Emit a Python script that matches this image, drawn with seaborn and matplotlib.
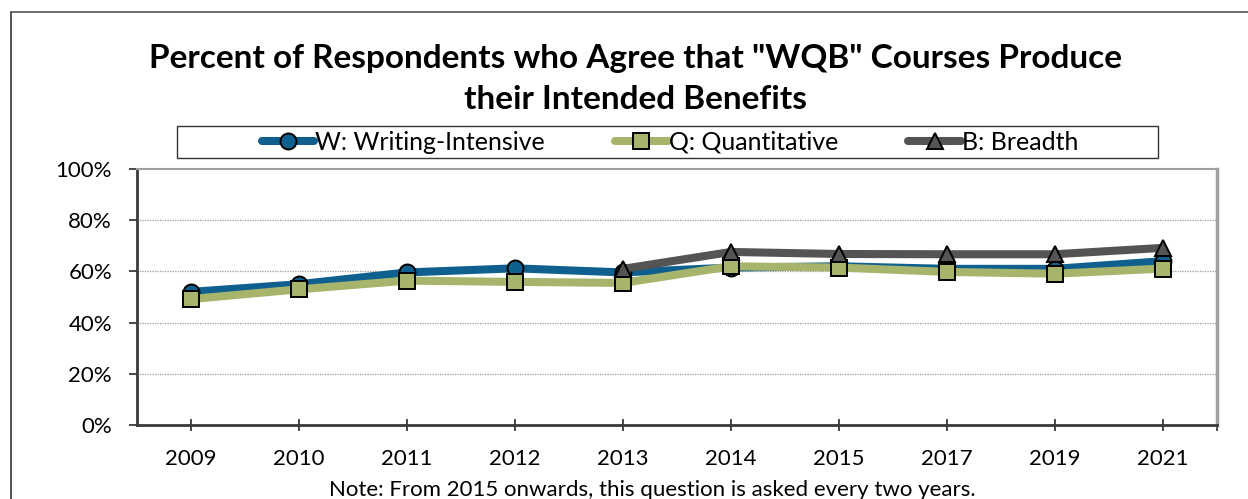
import matplotlib
matplotlib.use("Agg")
import matplotlib.pyplot as plt
import seaborn as sns
import pandas as pd
import numpy as np
from matplotlib.lines import Line2D
from matplotlib.patches import Rectangle
from matplotlib.ticker import PercentFormatter, FixedLocator

years = ["2009", "2010", "2011", "2012", "2013", "2014", "2015", "2017", "2019", "2021"]
writing = [52, 55, 59.6, 61.2, 59.6, 61.5, 62, 61, 61, 64]
quantitative = [49.2, 53, 56.4, 55.9, 55.5, 62, 61.5, 59.8, 59.1, 61.1]
breadth = [None, None, None, None, 61, 67.6, 66.8, 66.7, 66.7, 69.2]

series_names = ["W: Writing-Intensive", "Q: Quantitative", "B: Breadth"]
series_values = [writing, quantitative, breadth]
colors = ["#10608F", "#A6B56B", "#545454"]
markers = ["o", "s", "^"]
msizes = [11.5, 11.5, 11]

title = 'Percent of Respondents who Agree that "WQB" Courses Produce\ntheir Intended Benefits'
note = "Note: From 2015 onwards, this question is asked every two years."

sns.set_theme(style="white")
plt.rcParams["font.family"] = ["Lato", "DejaVu Sans"]
plt.rcParams["text.color"] = "black"

fig = plt.figure(figsize=(12.48, 4.99), dpi=100)
ax = fig.add_axes([137/1248, 1-425/499, (1217-137)/1248, (425-169)/499])

for name, vals, c, m, ms in zip(series_names, series_values, colors, markers, msizes):
    df = pd.DataFrame({"year": years, "value": vals}).dropna()
    sns.lineplot(data=df, x="year", y="value", ax=ax, color=c, linewidth=5.8,
                 marker=m, markersize=ms, markeredgecolor="black",
                 markeredgewidth=1.4, markerfacecolor=c, label=name,
                 legend=False, sort=False)

ax.set_xlim(-0.5, len(years) - 0.5)
ax.set_ylim(0, 100)
ax.yaxis.set_major_locator(FixedLocator([0, 20, 40, 60, 80, 100]))
ax.yaxis.set_major_formatter(PercentFormatter(decimals=0))
ax.set_xlabel("")
ax.set_ylabel("")

for y in [20, 40, 60, 80]:
    ax.axhline(y, color="#9a9a9a", linewidth=0.9, linestyle=(0, (1, 1)), zorder=0)

for s in ["left", "bottom"]:
    ax.spines[s].set_color("#3a3a3a")
    ax.spines[s].set_linewidth(2)
ax.spines["top"].set_color("#a0a0a0")
ax.spines["top"].set_linewidth(1.5)
ax.spines["right"].set_color("#a0a0a0")
ax.spines["right"].set_linewidth(2.5)

ax.tick_params(axis="y", which="major", direction="out", length=6, width=1.3,
               color="#3a3a3a", left=True, labelsize=16, pad=12, labelcolor="black")
ax.tick_params(axis="x", which="major", direction="inout", length=8, width=1.3,
               color="#3a3a3a", bottom=True, labelsize=16, pad=13, labelcolor="black")
ax.xaxis.set_minor_locator(FixedLocator([len(years) - 0.5]))
ax.tick_params(axis="x", which="minor", direction="inout", length=8, width=1.3,
               color="#3a3a3a", bottom=True)

fig.text(0.509, 1 - 79/499, title, ha="center", va="center", fontsize=24,
         fontweight="bold", linespacing=1.5, color="black")
fig.text(0.523, 1 - 490/499, note, ha="center", va="center", fontsize=16,
         color="black")

# legend box
fig.patches.append(Rectangle((177/1248, 1-158/499), (1158-177)/1248, 32/499,
                             transform=fig.transFigure, fill=False,
                             edgecolor="#333333", linewidth=1.0))
handles = [Line2D([0], [0], color=c, linewidth=5.8, marker=m, markersize=ms,
                  markeredgecolor="black", markeredgewidth=1.4)
           for c, m, ms in zip(colors, markers, msizes)]
fig.legend(handles, series_names, loc="center", ncol=3,
           bbox_to_anchor=(670/1248, 1-142/499), frameon=False, fontsize=18,
           handlelength=2.1, handletextpad=0.05, columnspacing=2.8, borderpad=0)

# outer border (clipped at right/bottom)
fig.add_artist(Line2D([11/1248, 11/1248], [1-12/499, 0], transform=fig.transFigure,
                      color="#333333", linewidth=1.2))
fig.add_artist(Line2D([11/1248, 1], [1-12/499, 1-12/499], transform=fig.transFigure,
                      color="#555555", linewidth=1.2))

fig.savefig("out.png", dpi=100)
